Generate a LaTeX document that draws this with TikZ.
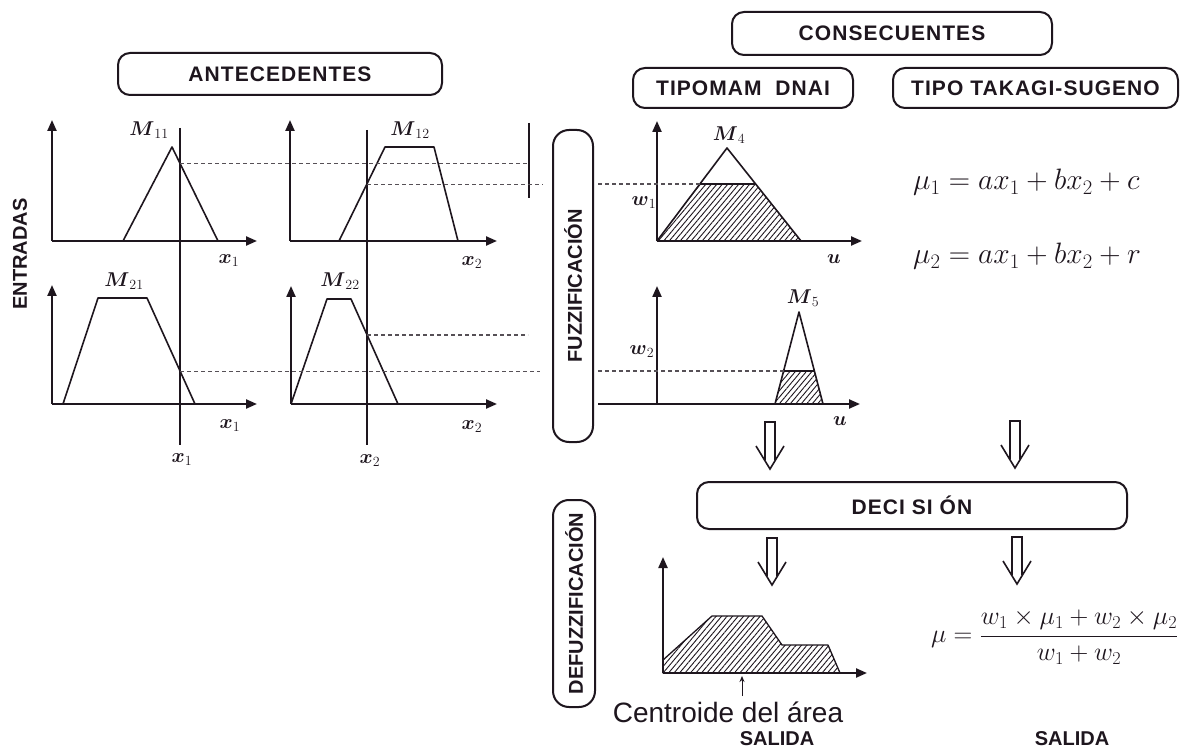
\RequirePackage{fix-cm}
\documentclass[tikz,border=0pt]{standalone}
\usepackage{fontspec}
\usepackage{amsmath}
\newfontfamily\hfont{Liberation Sans}
\newfontfamily\hsfont[LetterSpace=5]{Liberation Sans}
\usetikzlibrary{arrows.meta,patterns.meta}
\definecolor{ink}{RGB}{30,22,30}
\tikzset{
  tbox/.style={draw=ink, line width=2pt, rounded corners=12pt, inner sep=0pt, text=ink,
    font=\hsfont\bfseries\fontsize{21}{23}\selectfont},
  vbox/.style={draw=ink, line width=2pt, rounded corners=16pt, inner sep=0pt, text=ink, rotate=90,
    font=\hfont\bfseries\fontsize{20}{22}\selectfont},
  ttl/.style={text=ink, inner sep=0pt, font=\hfont\bfseries\fontsize{20}{22}\selectfont},
  axis/.style={draw=ink, line width=2.2pt, -{Triangle[length=11pt,width=9pt]}},
  mf/.style={draw=ink, line width=1.6pt, line join=round},
  guide/.style={draw=ink, line width=1.4pt},
  dashline/.style={draw=ink!75, line width=1.1pt, dash pattern=on 4pt off 3pt},
  hatch/.style={pattern={Lines[angle=50,distance=4.2pt,line width=0.9pt]}, pattern color=ink},
  lbl/.style={text=ink, inner sep=0pt, font=\fontsize{20}{22}\selectfont},
  eqn/.style={text=ink, inner sep=0pt, font=\fontsize{29.5}{31}\selectfont},
  dnarrow/.pic={
    \draw[ink, line width=1.6pt, line join=miter] (-5,38) -- (-5,0) -- (5,0) -- (5,38);
    \draw[ink, line width=1.6pt, line join=miter] (-14,24) -- (0,47) -- (14,24);
  }
}
\begin{document}
\begin{tikzpicture}[x=1pt,y=-1pt]
\useasboundingbox (0,0) rectangle (1181,751);
\fill[white] (0,0) rectangle (1181,751);

% ---------- title boxes ----------
\node[tbox, minimum width=324pt, minimum height=42pt] (ant) at (280,74) {ANTECEDENTES};
\node[tbox, minimum width=320pt, minimum height=43pt] (cons) at (892,33.5) {CONSECUENTES};
\node[tbox, minimum width=220pt, minimum height=40pt] (mam) at (743,88) {TIPOMAM\ \ DNAI};
\node[tbox, minimum width=285pt, minimum height=40pt] (tak) at (1035.5,88) {TIPO TAKAGI-SUGENO};
\node[vbox, minimum width=312pt, minimum height=40pt] (fuz) at (573,286) {FUZZIFICACIÓN};
\node[vbox, minimum width=207pt, minimum height=42pt] (defuz) at (574,603.5) {DEFUZZIFICACIÓN};
\node[tbox, minimum width=430pt, minimum height=47pt] (dec) at (912,505.5) {DECI\ SI\ ÓN};
\node[ttl, rotate=90] (ent) at (20,254) {ENTRADAS};

% ---------- antecedent plots ----------
% M11
\draw[axis] (52,241) -- (52,120);
\draw[axis] (52,241) -- (257,241);
\draw[mf] (123,241) -- (172,147) -- (218,241);
% M12
\draw[axis] (290,241) -- (290,120);
\draw[axis] (290,241) -- (497,241);
\draw[mf] (339,241) -- (385,147) -- (434,147) -- (458,241);
% M21
\draw[axis] (52,404) -- (52,285);
\draw[axis] (52,404) -- (257,404);
\draw[mf] (63,404) -- (98,298) -- (147,298) -- (195,404);
% M22
\draw[axis] (291,404) -- (291,286);
\draw[axis] (291,404) -- (497,404);
\draw[mf] (291,404) -- (327,299) -- (351,299) -- (398,404);

% input lines
\coordinate (x1t) at (180,128); \coordinate (x1b) at (180,445);
\coordinate (x2t) at (367,130); \coordinate (x2b) at (367,445);
\draw[guide] (x1t) -- (x1b);
\draw[guide] (x2t) -- (x2b);
\draw[guide] (529,123) -- (529,198);

% dashed levels
\draw[dashline] (180,163.3) -- (527,163.3);
\draw[dashline] (367,184.5) -- (543,184.5);
\draw[dashline] (180,371.5) -- (540,371.5);
\draw[dashline] (367,335) -- (528,335);

% labels
\node[lbl] (m11) at (149,130) {$\boldsymbol{M}_{11}$};
\node[lbl] (m12) at (410,130) {$\boldsymbol{M}_{12}$};
\node[lbl] (m21) at (124,281) {$\boldsymbol{M}_{21}$};
\node[lbl] (m22) at (340,281) {$\boldsymbol{M}_{22}$};
\node[lbl] (lx1a) at (229,261) {$\boldsymbol{x}_1$};
\node[lbl] (lx2a) at (472,263) {$\boldsymbol{x}_2$};
\node[lbl] (lx1b) at (230,426) {$\boldsymbol{x}_1$};
\node[lbl] (lx2b) at (472,427) {$\boldsymbol{x}_2$};
\node[lbl] (lx1c) at (182,460) {$\boldsymbol{x}_1$};
\node[lbl] (lx2c) at (370,461) {$\boldsymbol{x}_2$};

% ---------- consequent plots (Mamdani) ----------
% M4
\draw[hatch] (657,241) -- (699.9,184) -- (755.6,184) -- (801,241) -- cycle;
\draw[axis] (657,241) -- (657,121);
\draw[axis] (657,241) -- (862,241);
\draw[mf] (657,241) -- (727,148) -- (801,241);
\draw[mf] (699.9,184) -- (755.6,184);
\draw[dashline] (598,184) -- (699.9,184);
\node[lbl] (m4) at (729,135) {$\boldsymbol{M}_4$};
\node[lbl] (w1) at (644,203) {$\boldsymbol{w}_1$};
\node[lbl] (u1) at (834,259) {$\boldsymbol{u}$};
% M5
\draw[hatch] (775,404) -- (783.6,371) -- (814.4,371) -- (823,404) -- cycle;
\draw[axis] (657,404) -- (657,286);
\draw[axis] (598,404) -- (860,404);
\draw[mf] (775,404) -- (799,312) -- (823,404);
\draw[mf] (783.6,371) -- (814.4,371);
\draw[dashline] (598,371) -- (783.6,371);
\node[lbl] (m5) at (803,298) {$\boldsymbol{M}_5$};
\node[lbl] (w2) at (642,352) {$\boldsymbol{w}_2$};
\node[lbl] (u2) at (840,421) {$\boldsymbol{u}$};

% ---------- Takagi-Sugeno equations ----------
\node[eqn, anchor=base west] (mu1) at (913,190) {$\mu_1 = ax_1 + bx_2 + c$};
\node[eqn, anchor=base west] (mu2) at (913,264) {$\mu_2 = ax_1 + bx_2 + r$};

% ---------- arrows ----------
\pic at (770,422) {dnarrow};
\pic at (1015,421) {dnarrow};
\pic at (772,538) {dnarrow};
\pic at (1017,537) {dnarrow};

% ---------- defuzzification plot ----------
\draw[hatch, draw=ink, line width=1.3pt, line join=round] (663,673) -- (663,660) -- (712,616) -- (762,616) -- (782,645) -- (828,645) -- (840,673) -- cycle;
\draw[axis] (663,673) -- (663,557);
\draw[axis] (663,673) -- (867,673);
\coordinate (cen) at (742,696);
\draw[ink, line width=1pt, -{Stealth[length=6pt,width=5pt]}] (cen) -- (742,676);
\node[text=ink, inner sep=0pt, font=\hfont\fontsize{28}{30}\selectfont] (centroide) at (728,712) {Centroide del área};

\node[eqn, font=\fontsize{26}{28}\selectfont, anchor=west] (mu) at (931,637) {$\mu = \dfrac{w_1 \times \mu_1 + w_2 \times \mu_2}{w_1 + w_2}$};

\node[ttl] (sal1) at (777,739) {SALIDA};
\node[ttl] (sal2) at (1072,739) {SALIDA};
\end{tikzpicture}
\end{document}
